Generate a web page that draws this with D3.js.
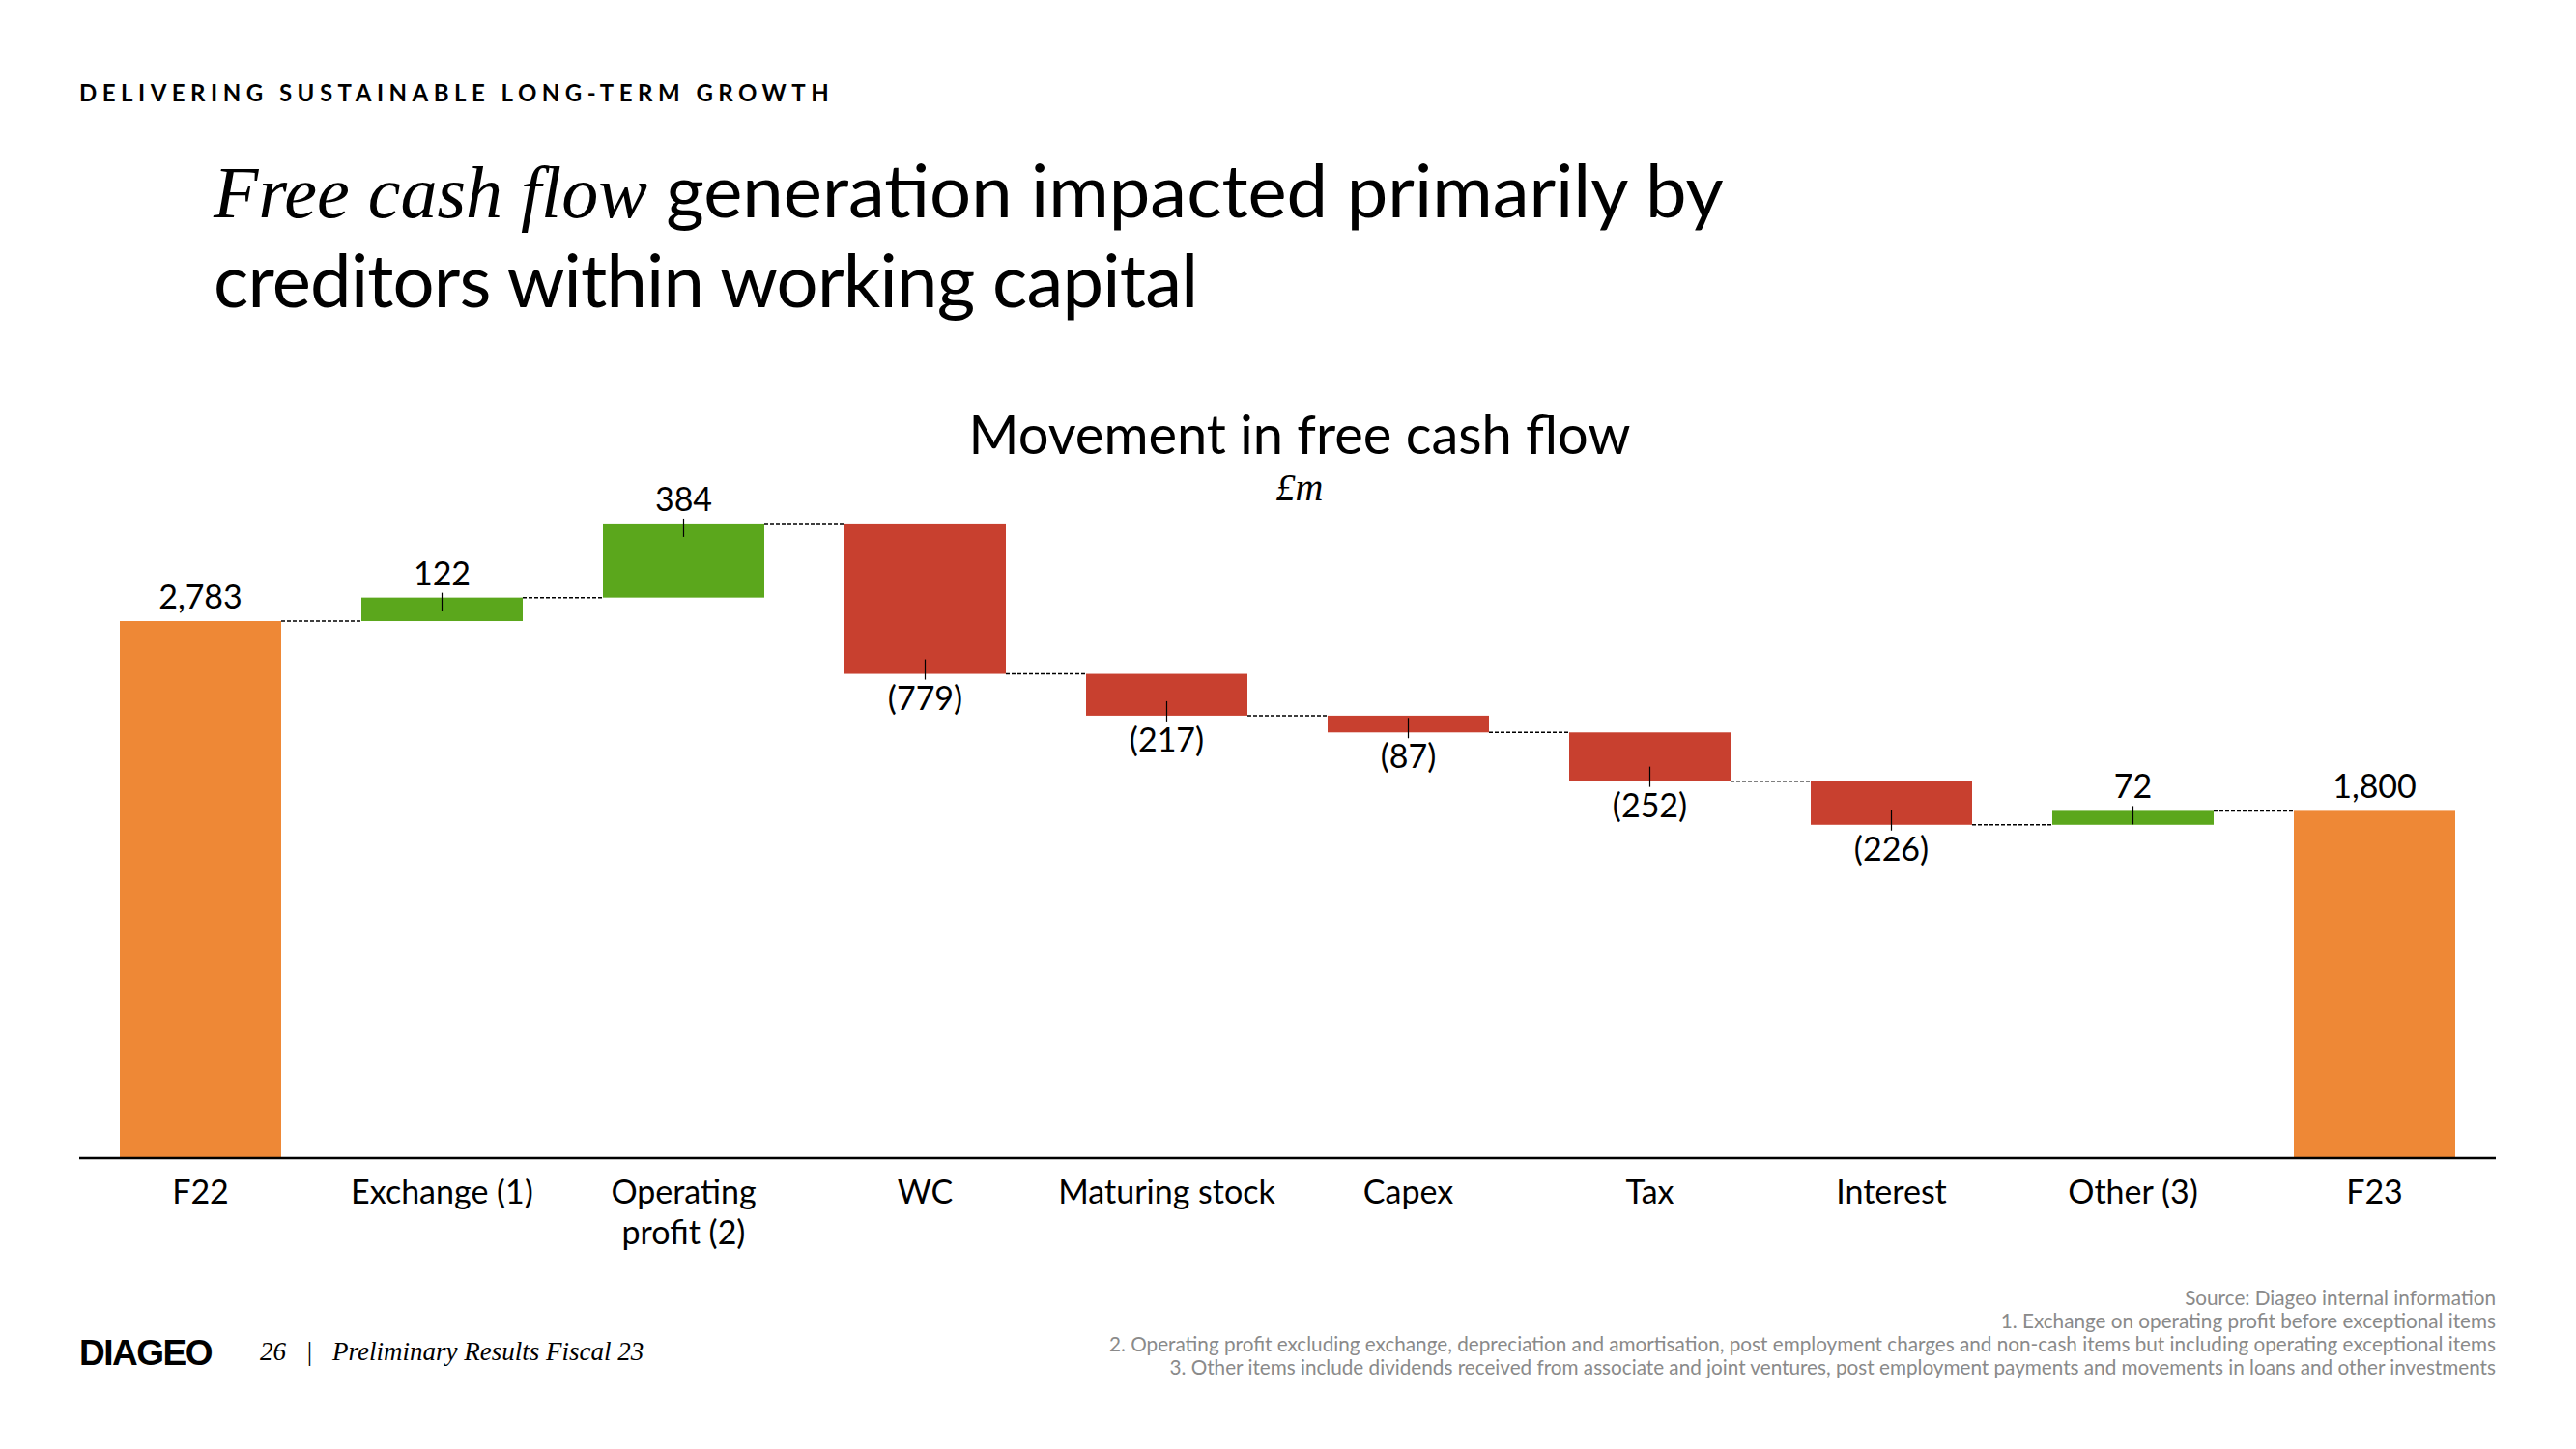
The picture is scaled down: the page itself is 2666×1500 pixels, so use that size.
<!DOCTYPE html>
<html>
<head>
<meta charset="utf-8">
<script src="https://cdn.jsdelivr.net/npm/d3@7"></script>
<style>
  body { margin: 0; background: #fff; }
  svg text { font-family: Lato, "Noto Sans", sans-serif; fill: #000; }
</style>
</head>
<body>
<div id="chart"></div>
<script>

// waterfall data, F22 -> F23 (£m)
const categories = ["F22", "Exchange (1)", "Operating\nprofit (2)", "WC", "Maturing stock", "Capex", "Tax", "Interest", "Other (3)", "F23"];
const changes = [2783, 122, 384, -779, -217, -87, -252, -226, 72, 1800];
const isTotal = [true, false, false, false, false, false, false, false, false, true];

const footnotes = [
	"Source: Diageo internal information",
	"1. Exchange on operating profit before exceptional items",
	"2. Operating profit excluding exchange, depreciation and amortisation, post employment charges and non-cash items but including operating exceptional items",
	"3. Other items include dividends received from associate and joint ventures, post employment payments and movements in loans and other investments"
];

const W = 2666, H = 1500;
const serif = '"Liberation Serif", "DejaVu Serif", serif';

var svg = d3.select("#chart").append("svg")
	.attr("width", W)
	.attr("height", H);

svg.append("rect").attr("width", W).attr("height", H).attr("fill", "#fff");

// header
svg.append("text")
	.attr("x", 82).attr("y", 105)
	.style("font-size", "24px")
	.style("font-weight", 700)
	.style("letter-spacing", "5.5px")
	.text("DELIVERING SUSTAINABLE LONG-TERM GROWTH");

var t1 = svg.append("text")
	.attr("x", 221).attr("y", 225)
	.style("font-size", "76px");
t1.append("tspan")
	.style("font-family", serif)
	.style("font-style", "italic")
	.text("Free cash flow");
t1.append("tspan").text(" generation impacted primarily by");

svg.append("text")
	.attr("x", 221).attr("y", 318)
	.style("font-size", "76px")
	.style("letter-spacing", "-0.8px")
	.text("creditors within working capital");

// chart title
svg.append("text")
	.attr("x", 1345).attr("y", 470)
	.attr("text-anchor", "middle")
	.style("font-size", "56px")
	.text("Movement in free cash flow");

svg.append("text")
	.attr("x", 1345).attr("y", 518)
	.attr("text-anchor", "middle")
	.style("font-family", serif)
	.style("font-style", "italic")
	.style("font-size", "40px")
	.text("£m");

// build the steps
var running = 0;
var steps = changes.map(function(v, i) {
	var s = { cat: categories[i], value: v, total: isTotal[i] };
	if (s.total) {
		s.y0 = 0; s.y1 = v; running = v;
	} else {
		s.y0 = running; s.y1 = running + v; running = s.y1;
	}
	s.end = running;
	return s;
});

var x = d3.scaleBand()
	.domain(categories)
	.range([82.5, 2582.5])
	.paddingInner(0.332)
	.paddingOuter(0.166);

var y = d3.scaleLinear()
	.domain([0, 3000])
	.range([1199, 1199 - 3000 * 0.19978]);

function barColor(d) {
	if (d.total) return "#EE8836";
	return d.value >= 0 ? "#5BA71C" : "#C8402F";
}

svg.selectAll("rect.bar")
	.data(steps)
	.enter().append("rect")
	.attr("class", "bar")
	.attr("x", d => x(d.cat))
	.attr("width", x.bandwidth())
	.attr("y", d => y(Math.max(d.y0, d.y1)))
	.attr("height", d => Math.abs(y(d.y0) - y(d.y1)))
	.attr("fill", barColor);

// dashed connectors
svg.selectAll("line.conn")
	.data(steps.slice(0, -1))
	.enter().append("line")
	.attr("class", "conn")
	.attr("x1", d => x(d.cat) + x.bandwidth())
	.attr("x2", (d, i) => x(categories[i + 1]))
	.attr("y1", d => y(d.end))
	.attr("y2", d => y(d.end))
	.attr("stroke", "#000")
	.attr("stroke-width", 1.5)
	.attr("stroke-dasharray", "4,2");

// small leader ticks on the movement bars
svg.selectAll("line.lead")
	.data(steps.filter(d => !d.total))
	.enter().append("line")
	.attr("class", "lead")
	.attr("x1", d => x(d.cat) + x.bandwidth() / 2)
	.attr("x2", d => x(d.cat) + x.bandwidth() / 2)
	.attr("y1", d => d.value >= 0 ? y(d.y1) - 5 : y(d.y1) - 15)
	.attr("y2", d => d.value >= 0 ? y(d.y1) + 14 : y(d.y1) + 6)
	.attr("stroke", "#000")
	.attr("stroke-width", 1.2);

var fmt = d3.format(",");
svg.selectAll("text.val")
	.data(steps)
	.enter().append("text")
	.attr("class", "val")
	.attr("x", d => x(d.cat) + x.bandwidth() / 2)
	.attr("y", d => d.value >= 0 ? y(d.y1) - 13 : y(d.y1) + 37)
	.attr("text-anchor", "middle")
	.style("font-size", "34px")
	.text(d => d.value < 0 ? "(" + fmt(-d.value) + ")" : fmt(d.value));

// x axis
var axis = svg.append("g")
	.attr("transform", "translate(0,1199)")
	.call(d3.axisBottom(x).tickSize(0).tickSizeOuter(0));

axis.select(".domain")
	.attr("stroke", "#000")
	.attr("stroke-width", 2.5)
	.attr("d", "M82,0H2583");

axis.selectAll(".tick text")
	.attr("dy", null)
	.style("font-size", "34px")
	.style("font-family", null)
	.attr("fill", "#000")
	.each(function(d) {
		var t = d3.select(this);
		t.text(null);
		d.split("\n").forEach(function(line, i) {
			t.append("tspan").attr("x", 0).attr("y", 47 + i * 42).text(line);
		});
	});

// footer
svg.append("text")
	.attr("x", 82).attr("y", 1413)
	.style("font-family", '"Liberation Sans", sans-serif')
	.style("font-size", "37px")
	.style("font-weight", 700)
	.style("letter-spacing", "-1.5px")
	.text("DIAGEO");

svg.append("text")
	.attr("x", 269).attr("y", 1408)
	.style("font-family", serif)
	.style("font-style", "italic")
	.style("font-size", "27px")
	.attr("xml:space", "preserve")
	.text("26   |   Preliminary Results Fiscal 23");

svg.selectAll("text.note")
	.data(footnotes)
	.enter().append("text")
	.attr("class", "note")
	.attr("x", 2583)
	.attr("y", (d, i) => 1351 + i * 24)
	.attr("text-anchor", "end")
	.style("font-size", "20.7px")
	.style("fill", "#8a8a8a")
	.text(d => d);

</script>
</body>
</html>
